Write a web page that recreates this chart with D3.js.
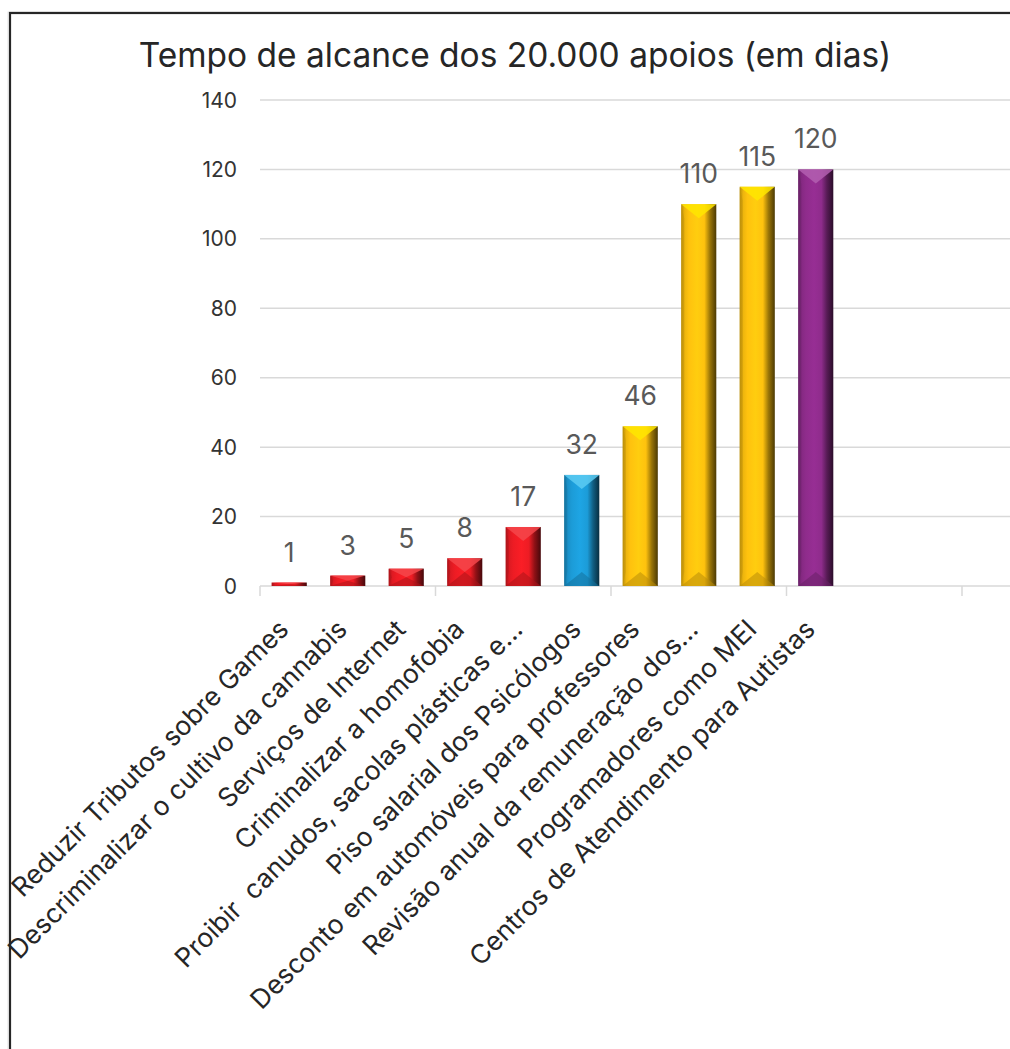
<!DOCTYPE html>
<html>
<head>
<meta charset="utf-8">
<script src="https://cdn.jsdelivr.net/npm/d3@7"></script>
<style>
  html, body { margin: 0; padding: 0; background: #fff; }
  svg { display: block; }
  text { white-space: pre; }
</style>
</head>
<body>
<svg id="chart" width="1010" height="1049"></svg>
<script>
// ---- data ----
const title = "Tempo de alcance dos 20.000 apoios (em dias)";
const categories = [
  "Reduzir Tributos sobre Games",
  "Descriminalizar o cultivo da cannabis",
  "Serviços de Internet",
  "Criminalizar a homofobia",
  "Proibir  canudos, sacolas plásticas e…",
  "Piso salarial dos Psicólogos",
  "Desconto em automóveis para professores",
  "Revisão anual da remuneração dos…",
  "Programadores como MEI",
  "Centros de Atendimento para Autistas"
];
const values = [1, 3, 5, 8, 17, 32, 46, 110, 115, 120];
const groups = ["red", "red", "red", "red", "red", "blue", "gold", "gold", "gold", "purple"];
const yTicks = [0, 20, 40, 60, 80, 100, 120, 140];

// ---- styles ----
const palette = { red: "#ED1C24", blue: "#1C9CD8", gold: "#FFC20E", purple: "#8F2C8C" };
const topFace = { red: "#F5464B", blue: "#5CCBF2", gold: "#FFE600", purple: "#B35FB0" };

const svg = d3.select("#chart");
const slotCount = 13;
const slotStep = 58.5;
const plotLeft = 260, plotTop = 100, plotBottom = 586;

const x = d3.scaleBand()
  .domain(d3.range(slotCount))
  .range([plotLeft, plotLeft + slotCount * slotStep])
  .paddingInner(0.4).paddingOuter(0.2);
const y = d3.scaleLinear().domain([0, 140]).range([plotBottom, plotTop]);

// frame
svg.append("rect").attr("x", 8).attr("y", 12).attr("width", 1100).attr("height", 1100)
  .attr("fill", "none").attr("stroke", "#e6e6e6").attr("stroke-width", 1);
svg.append("rect").attr("x", 10).attr("y", 13).attr("width", 1100).attr("height", 1100)
  .attr("fill", "#fff").attr("stroke", "#262626").attr("stroke-width", 2.2);

// gradients
const defs = svg.append("defs");
Object.keys(palette).forEach(k => {
  const base = d3.color(palette[k]);
  const g = defs.append("linearGradient").attr("id", "g-" + k)
    .attr("x1", "0%").attr("x2", "100%").attr("y1", "0%").attr("y2", "0%");
  [
    [0, base.darker(0.9)],
    [0.1, base.darker(0.2)],
    [0.22, base],
    [0.45, base.brighter(0.15)],
    [0.66, base],
    [0.82, base.darker(1.4)],
    [1, base.darker(3.4)]
  ].forEach(([o, c]) => g.append("stop").attr("offset", o).attr("stop-color", c.formatHex()));
});

// title
svg.append("text").attr("x", 515).attr("y", 67).attr("text-anchor", "middle")
  .attr("font-family", "Inter, 'Liberation Sans', sans-serif").attr("font-size", 33.5)
  .attr("fill", "#262626").text(title);

// gridlines
const xRight = 1020;
svg.append("g").selectAll("line").data(yTicks).join("line")
  .attr("x1", plotLeft).attr("x2", xRight)
  .attr("y1", d => y(d)).attr("y2", d => y(d))
  .attr("stroke", "#d9d9d9").attr("stroke-width", 1.5);

// y tick labels
svg.append("g").selectAll("text").data(yTicks).join("text")
  .attr("x", 237).attr("y", d => y(d)).attr("dy", "0.36em")
  .attr("text-anchor", "end")
  .attr("font-family", "Inter, 'Liberation Sans', sans-serif").attr("font-size", 21)
  .attr("fill", "#333").text(d => d);

// x axis ticks (every 3 categories)
const tickSlots = d3.range(0, slotCount + 1, 3);
svg.append("g").selectAll("line").data(tickSlots).join("line")
  .attr("x1", d => plotLeft + d * x.step()).attr("x2", d => plotLeft + d * x.step())
  .attr("y1", plotBottom).attr("y2", plotBottom + 10)
  .attr("stroke", "#d9d9d9").attr("stroke-width", 1.5);

// bars
const bars = svg.append("g");
values.forEach((v, i) => {
  const x0 = x(i), w = x.bandwidth(), x1 = x0 + w, xc = x0 + w / 2;
  const y0 = y(v), y1 = y(0), h = y1 - y0;
  const b = Math.min(14, h / 2);
  const k = groups[i];
  const base = d3.color(palette[k]);
  const g = bars.append("g");
  g.append("rect").attr("x", x0).attr("y", y0).attr("width", w).attr("height", h)
    .attr("fill", `url(#g-${k})`);
  // top bevel face
  g.append("path")
    .attr("d", `M${x0},${y0}L${x1},${y0}L${xc},${y0 + b}Z`)
    .attr("fill", topFace[k]).attr("opacity", 0.85);
  // left bevel strip
  g.append("path")
    .attr("d", `M${x0},${y0}L${x0 + Math.min(3, b)},${y0 + b}L${x0 + Math.min(3, b)},${y1 - b}L${x0},${y1}Z`)
    .attr("fill", base.darker(0.8).formatHex()).attr("opacity", 0.5);
  // bottom bevel face
  g.append("path")
    .attr("d", `M${x0},${y1}L${x1},${y1}L${xc},${y1 - b}Z`)
    .attr("fill", base.darker(0.9).formatHex()).attr("opacity", 0.55);
});

// data labels
svg.append("g").selectAll("text").data(values).join("text")
  .attr("x", (d, i) => x(i) + x.bandwidth() / 2)
  .attr("y", d => y(d) - 21)
  .attr("text-anchor", "middle")
  .attr("font-family", "Inter, 'Liberation Sans', sans-serif").attr("font-size", 26.5)
  .attr("fill", "#595959").text(d => d);

// category labels
svg.append("g").selectAll("text").data(categories).join("text")
  .attr("transform", (d, i) => `translate(${x(i) + x.bandwidth() / 2 + 1},631) rotate(-45)`)
  .attr("text-anchor", "end")
  .attr("font-family", "Inter, 'Liberation Sans', sans-serif").attr("font-size", 26.5)
  .attr("fill", "#262626").text(d => d);
</script>
</body>
</html>
